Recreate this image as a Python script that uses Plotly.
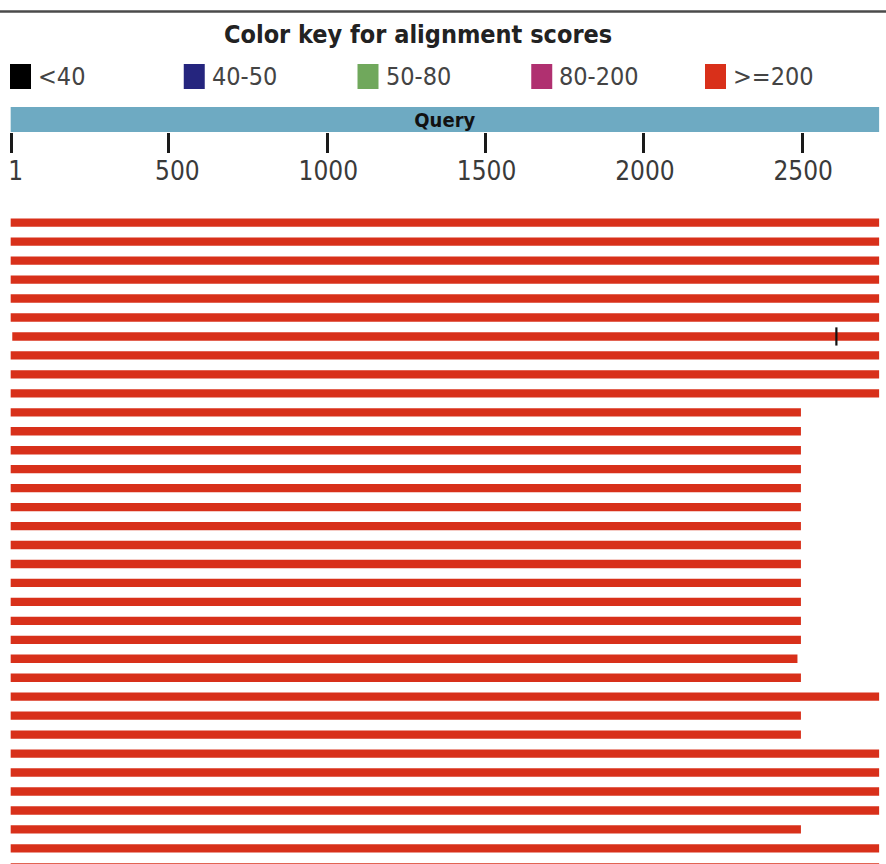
import plotly.graph_objects as go

# ---- data -------------------------------------------------------------
query_length = 2743
query_label = "Query"

tick_values = [1, 500, 1000, 1500, 2000, 2500]
tick_labels = ["\u00a01", "\u00a0\u00a0500", "1000", "1500", "2000", "2500"]

key_labels = ["<40", "40-50", "50-80", "80-200", ">=200"]
key_colors = ["#000000", "#25257e", "#70a85c", "#b03070", "#d9301a"]

# one alignment (subject hit) per row, query coordinates
hit_rows = list(range(1, 36))
hit_starts = [1, 1, 1, 1, 1, 1, 6, 1, 1, 1,
              1, 1, 1, 1, 1, 1, 1, 1, 1, 1,
              1, 1, 1, 1, 1, 1, 1, 1, 1, 1,
              1, 1, 1, 1, 1]
hit_ends = [2743, 2743, 2743, 2743, 2743, 2743, 2743, 2743, 2743, 2743,
            2496, 2496, 2496, 2496, 2496, 2496, 2496, 2496, 2496, 2496,
            2496, 2496, 2496, 2485, 2496, 2743, 2496, 2496, 2743, 2743,
            2743, 2743, 2496, 2743, 2743]
hit_color = "#d8301a"

# boundary between two HSPs on one hit
split_rows = [7]
split_positions = [2608]

# ---- figure geometry --------------------------------------------------
W, H = 886, 864
FONT = "DejaVu Sans Condensed, DejaVu Sans, sans-serif"


def px_y(p):
    """pixel row from the top -> paper y"""
    return 1 - p / H


def px_x(p):
    return p / W


x_range = [-33.74, 2764.7]
row_pitch = 18.96          # pixels per row
row1_center = 222.7        # pixel of the first row
main_top_px = 200
y_top = 1 - (row1_center - main_top_px) / row_pitch
y_bottom = 1 + (H - row1_center) / row_pitch

fig = go.Figure()

# query strip
fig.add_trace(go.Bar(
    x=[query_length], base=[0], y=[0], orientation="h", width=1,
    marker=dict(color="#6eaac2", line=dict(width=0)),
    text=[f"<b>{query_label}</b>"], textposition="inside",
    insidetextanchor="middle", constraintext="none",
    textfont=dict(family=FONT, size=20, color="#111111"),
    xaxis="x2", yaxis="y2", hoverinfo="skip", showlegend=False,
))

# alignment hits
fig.add_trace(go.Bar(
    x=[e - s + 1 for s, e in zip(hit_starts, hit_ends)],
    base=[s - 1 for s in hit_starts],
    y=hit_rows, orientation="h", width=0.44,
    marker=dict(color=hit_color, line=dict(width=0)),
    xaxis="x", yaxis="y", showlegend=False,
))

fig.add_trace(go.Scatter(
    x=split_positions, y=split_rows, mode="markers",
    marker=dict(symbol="line-ns", size=13,
                line=dict(width=2.2, color="#111111")),
    xaxis="x", yaxis="y", showlegend=False, hoverinfo="skip",
))

# colour key
shapes = [dict(type="line", xref="paper", yref="paper",
               x0=0, x1=1, y0=px_y(11.5), y1=px_y(11.5),
               line=dict(color="#4a4a4a", width=2.5))]
annotations = [dict(
    text="<b>Color key for alignment scores</b>",
    xref="paper", yref="paper", x=px_x(418), y=px_y(34),
    xanchor="center", yanchor="middle", showarrow=False,
    font=dict(family=FONT, size=25, color="#222222"),
)]
for i, (lab, col) in enumerate(zip(key_labels, key_colors)):
    left = 10 + i * 173.75
    shapes.append(dict(type="rect", xref="paper", yref="paper",
                       x0=px_x(left), x1=px_x(left + 21),
                       y0=px_y(89), y1=px_y(64),
                       fillcolor=col, line=dict(width=0)))
    annotations.append(dict(
        text=lab, xref="paper", yref="paper",
        x=px_x(left + 26), y=px_y(77), xanchor="left", yanchor="middle",
        showarrow=False, font=dict(family=FONT, size=25, color="#444444"),
    ))

fig.update_layout(
    width=W, height=H,
    margin=dict(l=0, r=0, t=0, b=0),
    paper_bgcolor="white", plot_bgcolor="white",
    barmode="overlay",
    shapes=shapes, annotations=annotations,
    xaxis=dict(range=x_range, anchor="y", showticklabels=False,
               showgrid=False, zeroline=False, ticks="", showline=False,
               fixedrange=True),
    yaxis=dict(range=[y_bottom, y_top], domain=[0, px_y(main_top_px)],
               showticklabels=False, showgrid=False, zeroline=False,
               ticks="", showline=False, fixedrange=True),
    xaxis2=dict(range=x_range, anchor="y2", matches="x",
                tickmode="array", tickvals=tick_values, ticktext=tick_labels,
                ticks="outside", ticklen=20, tickwidth=2.5,
                tickcolor="#1a1a1a", showgrid=False, zeroline=False,
                showline=False, ticklabelstandoff=-4, ticklabelshift=1,
                tickfont=dict(family=FONT, size=26, color="#3a3a3a")),
    yaxis2=dict(range=[-0.5, 0.5], domain=[px_y(132), px_y(107)],
                anchor="x2", showticklabels=False, showgrid=False,
                zeroline=False, ticks="", showline=False),
    font=dict(family=FONT),
)

fig.write_html("out.html")
